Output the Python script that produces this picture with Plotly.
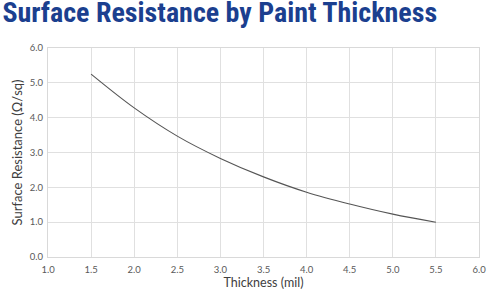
import plotly.graph_objects as go

thickness = [1.5, 2.0, 2.5, 3.0, 3.5, 4.0, 4.5, 5.0, 5.5]
resistance = [5.25, 4.28, 3.47, 2.83, 2.30, 1.86, 1.52, 1.23, 1.00]

x_ticks = [1.0, 1.5, 2.0, 2.5, 3.0, 3.5, 4.0, 4.5, 5.0, 5.5, 6.0]
y_ticks = [0.0, 1.0, 2.0, 3.0, 4.0, 5.0, 6.0]

fig = go.Figure()
fig.add_trace(go.Scatter(
    x=thickness, y=resistance, mode="lines",
    line=dict(color="#555555", width=1.1, shape="spline"),
    showlegend=False, hoverinfo="x+y"))

fig.update_layout(
    width=488, height=291,
    margin=dict(l=48, r=9, t=48, b=34),
    paper_bgcolor="white", plot_bgcolor="white",
    title=dict(text="<b>Surface Resistance by Paint Thickness</b>",
               x=0.005, xref="container", xanchor="left",
               y=0.993, yref="container", yanchor="top",
               pad=dict(t=0, b=0, l=0, r=0),
               font=dict(family="Liberation Sans Narrow, Roboto Condensed, Roboto", size=28, color="#1b3f8f")),
    font=dict(family="Lato, Open Sans, sans-serif"),
)
fig.update_xaxes(
    range=[1.0, 6.0], tickvals=x_ticks, ticktext=[f"{v:.1f}" for v in x_ticks],
    showgrid=True, gridcolor="#e0e0e0", gridwidth=1,
    showline=True, linecolor="#d9d9d9", mirror=True, zeroline=False,
    tickfont=dict(size=9.5, color="#595959"), ticks="", ticklabelstandoff=4,
    automargin=False,
    title=dict(text="Thickness (mil)", font=dict(size=12.5, color="#404040"), standoff=1),
)
fig.update_yaxes(
    range=[0.0, 6.0], tickvals=y_ticks, ticktext=[f"{v:.1f}" for v in y_ticks],
    showgrid=True, gridcolor="#e0e0e0", gridwidth=1,
    showline=True, linecolor="#d9d9d9", mirror=True, zeroline=False,
    tickfont=dict(size=9.5, color="#595959"), ticks="", automargin=False,
    ticklabelstandoff=2,
    title=dict(text="Surface Resistance (Ω/sq)", font=dict(size=13, color="#404040"), standoff=4),
)

fig.write_html("out.html")
